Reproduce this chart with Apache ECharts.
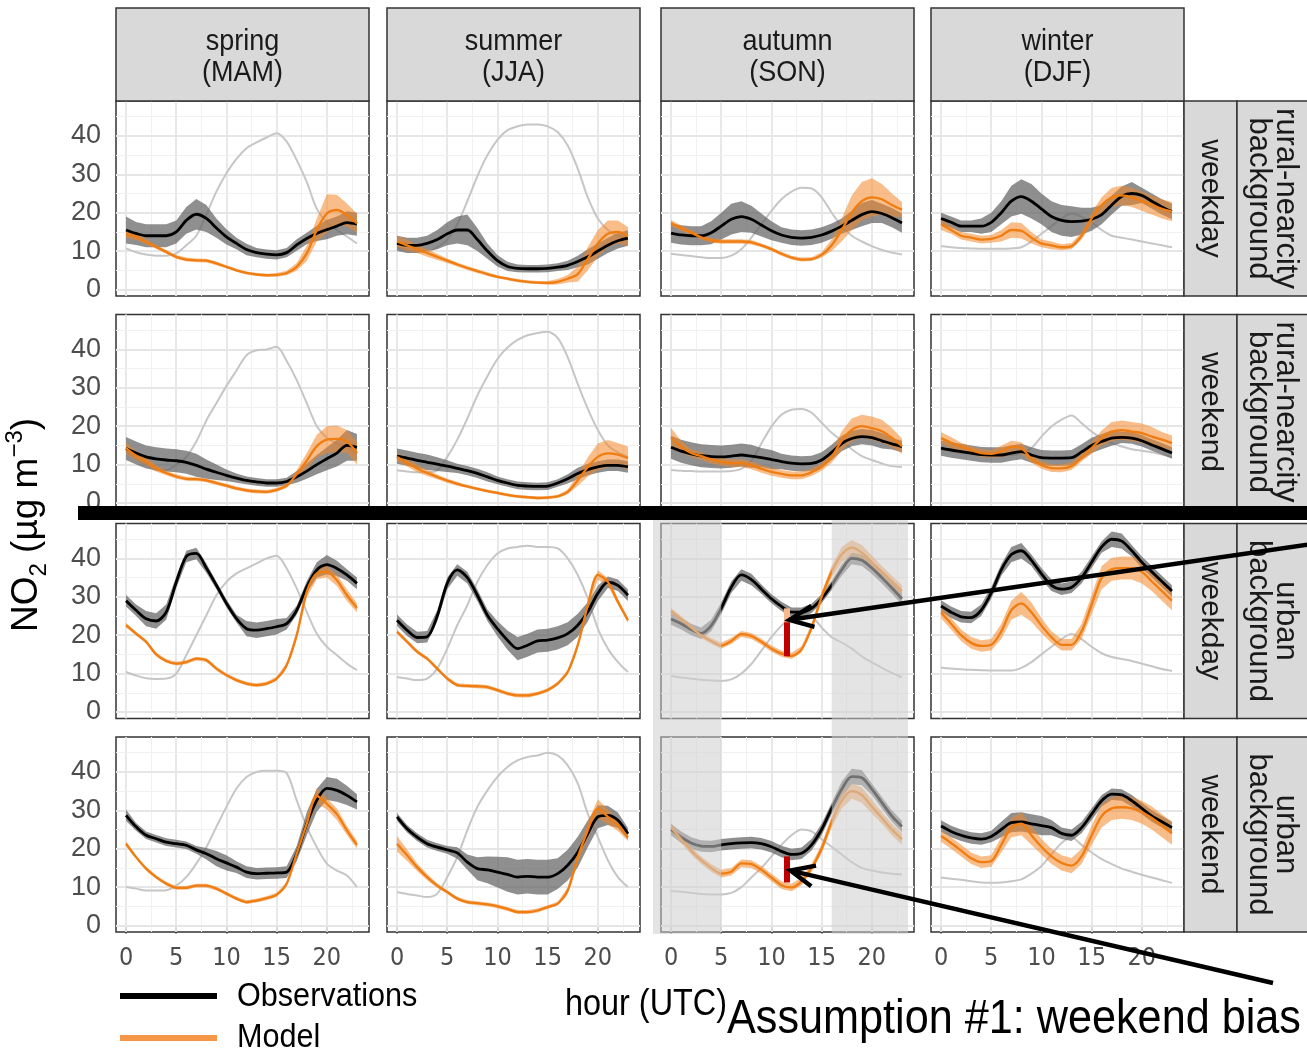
<!DOCTYPE html>
<html>
<head>
<meta charset="utf-8">
<script src="https://cdn.jsdelivr.net/npm/echarts@6/dist/echarts.min.js"></script>
<style>
  html, body { margin: 0; padding: 0; background: #fff; }
  #chart { width: 1307px; height: 1050px; }
</style>
</head>
<body>
<div id="chart"></div>
<script>
// ---- categories / labels ----
const HOURS = [0,1,2,3,4,5,6,7,8,9,10,11,12,13,14,15,16,17,18,19,20,21,22,23];
const SEASONS = ['spring\n(MAM)', 'summer\n(JJA)', 'autumn\n(SON)', 'winter\n(DJF)'];
const DAYTYPES = ['weekday', 'weekend', 'weekday', 'weekend'];
const SITES = ['rural-nearcity\nbackground', 'rural-nearcity\nbackground', 'urban\nbackground', 'urban\nbackground'];
const X_TICKS = [0, 5, 10, 15, 20];
const Y_TICKS = [0, 10, 20, 30, 40];

// ---- rural-nearcity background, weekday: [spring, summer, autumn, winter] ----
const obs_rwd = [
  [15.5,14.6,14,14,14,15,18,19.6,18.5,16,13.7,12,10.4,9.6,9.2,9,9.6,11.6,13.3,14.6,15.6,16.5,17.4,17],
  [12,11.5,11.5,12,13,14.5,15.5,15.5,13,10,7.5,6,5.5,5.4,5.4,5.5,5.8,6.3,7.3,8.5,10,11.5,12.7,13.4],
  [14.7,14.2,14,14,14.8,16.5,18.3,19,18.3,16.8,15.3,14.2,13.6,13.4,13.6,14.2,15.2,16.5,18,19.5,20.3,19.8,18.7,17.3],
  [18.5,17.5,16.5,16.5,16.5,17.5,20,23,24.2,23,21,19,18,17.7,17.8,18.3,19.5,22,24.3,25,24.5,23,21.5,20.3]
];
const obsSd_rwd = [
  [3.5,3,3,3,3,3,3.5,4,3.5,2.5,2,1.5,1.5,1.2,1.2,1.2,1.2,1.5,1.5,2,2.5,2.5,3,3],
  [2,2,2,2,2.5,3,3.5,4,3,2,1.5,1.2,1,1,1,1,1,1.2,1.5,2,2,2,2,2],
  [2.5,2.5,2.5,2.5,3,3.5,4,4,3.5,3,2.5,2,2,2,2,2,2,2,2.5,3,3,2.5,2.5,2.5],
  [1.5,1.5,1.5,1.5,2,2.5,3,4,4.5,4.5,4,4,4,4,3.5,3,2.5,2.5,2.5,3,2,2,2,2]
];
const mod_rwd = [
  [14.5,13.7,12.4,11.1,9.8,8.5,7.8,7.6,7.5,6.8,5.9,5,4.3,3.9,3.7,3.8,4.3,5.9,9.4,15.5,19.8,20.7,19.4,17.2],
  [12.5,11.5,10.5,9.5,8.5,7.5,6.5,5.6,4.8,4,3.3,2.8,2.3,2,1.8,1.7,2,2.8,4,8,12,14.5,15,13.8],
  [17.3,16,14.8,13.6,12.8,12.5,12.5,12.5,12.3,11.5,10.5,9.3,8.3,7.8,7.9,9,11.5,15.5,20,23,24,23.5,22,20.8],
  [17,15.5,14,13.5,13,13.2,14,15.5,15.3,13.5,12,11.5,11,11.3,14,18.5,22,24,24.5,24,23,22,21,20.3]
];
const modSd_rwd = [
  [1,0.8,0.6,0.5,0.5,0.5,0.5,0.5,0.5,0.5,0.4,0.4,0.4,0.4,0.4,0.5,0.6,1,2,3,5,4,3,2.5],
  [1.5,1.5,1,1,0.8,0.6,0.5,0.5,0.5,0.5,0.4,0.4,0.4,0.4,0.4,0.5,0.7,1,2,3,3.5,3.5,3,2.5],
  [0.8,0.7,0.7,0.6,0.6,0.6,0.6,0.6,0.6,0.5,0.5,0.5,0.5,0.5,0.5,0.7,1.5,3,4.5,5,5,4,3,2],
  [1.5,1,1,1,1,1,1.5,2,2,1.5,1,1,0.8,0.8,1,1.5,2,2.5,2.5,2.5,2.5,2.5,2.5,2.5]
];
const bg_rwd = [
  [10.7,9.7,9.1,8.8,8.8,9.4,11.5,14,19.5,25.5,30.3,34,36.8,38.3,39.6,40.7,38.5,33.7,28,21,17.5,15.5,13.8,12],
  [11,10.3,9.8,9.8,11,13,17,23,29.5,35,39,41.5,42.5,43,43,42.5,41,37.5,31.5,24,18.5,15.5,14,13.5],
  [9.3,9,8.7,8.4,8.2,8.2,8.8,10.5,13.5,17,20.5,23.5,25.5,26.5,26.3,24,20,16.5,14,12.5,11.3,10.3,9.6,9.1],
  [11.3,11,10.8,10.7,10.6,10.6,10.6,10.7,11,12.5,14.5,16.5,18.5,19.8,19,17.5,15.5,14,13.5,13,12.5,12,11.5,11]
];

// ---- rural-nearcity background, weekend ----
const obs_rwe = [
  [14.2,13,12,11.5,11.2,11,10.6,9.8,8.8,8,7.2,6.5,5.9,5.5,5.2,5.2,5.6,6.8,8.3,10,11.5,13,15,14.5],
  [12.2,11.7,11.1,10.6,10.1,9.6,9,8.4,7.7,6.8,5.9,5.2,4.6,4.4,4.3,4.4,5.2,6.3,7.7,8.7,9.4,9.8,9.8,9.4],
  [14.5,13.5,12.8,12.3,12.1,12,12.2,12.5,12.2,11.8,11.3,10.8,10.4,10.2,10.3,11.2,13.2,15.5,16.8,17.3,17,16.2,15.4,14.7],
  [14.3,13.8,13.4,13,12.6,12.5,12.5,13,13.4,12.5,11.8,11.7,11.7,11.8,13.3,15,16,16.9,17.1,16.9,16.2,15.1,14.1,13]
];
const obsSd_rwe = [
  [3,3,3,3,3,3,3,3,2.5,2,1.5,1.2,1,1,1,1,1,1.5,2,2.5,3,3.5,4,3.5],
  [2,2,2,2,1.8,1.5,1.2,1.2,1.2,1.2,1,1,1,1,1,1,1,1.2,1.5,1.5,1.5,1.5,1.5,1.5],
  [3,3,3,3,3,3,3,3,3,2.5,2.5,2,2,2,2,2,2,2,2,2,2,2,1.5,1.5],
  [2,2,2,2,2,2,2,2,2,2,2,2,2,2,2,2,2,2,1.5,1.5,1.5,1.5,1.5,1.5]
];
const mod_rwe = [
  [14.3,12.3,10.8,9,7.8,6.9,6.3,6.2,5.9,5.2,4.5,3.8,3.3,3,2.9,3.4,4.5,7.5,11,14.8,16.5,16.7,16,13],
  [12,10.5,9,7.8,6.8,5.8,5,4.3,3.7,3.1,2.6,2.1,1.7,1.5,1.3,1.4,1.7,2.9,5.9,9.4,12,12.9,12.6,11.7],
  [17,14.7,13,12.2,11.3,10.7,10.4,10.4,9.8,8.9,8.1,7.6,7.2,7.2,8,9.4,12,16.2,19,20,19.5,18.7,17,14.8],
  [16.9,15.7,14.7,13.8,13,12.8,13.4,14.7,14.3,11.5,9.9,9.1,9,9.6,11.8,14.3,16.9,18.6,19,18.6,18.2,17.3,16.5,15.6]
];
const modSd_rwe = [
  [1.5,1.2,1,0.8,0.6,0.6,0.5,0.5,0.5,0.5,0.5,0.5,0.5,0.5,0.5,0.5,0.6,1,2,3,3.5,3.5,3,3],
  [1.2,1,1,0.8,0.6,0.5,0.5,0.4,0.4,0.4,0.4,0.4,0.4,0.4,0.4,0.4,0.4,0.6,1.5,2.5,3.5,3.5,3,3],
  [2.5,1.5,1,1,1,1,1,1,1,1,1,1,1,1,1,1,1.5,2.5,3,3,3,3,2.5,2],
  [1.5,1.5,1,1,1,1,1.5,1.5,1.5,1,1,1,1,1,1,1.5,2,2.5,2.5,2.5,2.5,2.5,2,2]
];
const bg_rwe = [
  [13.5,11.5,10,8.5,8.5,10,12,16,21.5,26,30.5,34.5,38.5,39.8,40,40.7,37,32,26,20,17,15.5,14.5,13],
  [8.5,8.2,8,8,8.5,12,16.5,22,28,33,37.5,40.5,42.5,43.7,44.3,44.6,43,38,31,24.5,19,15,13.2,12],
  [8.6,8.4,8.3,8.2,8.2,8.2,8.3,8.9,11,15.5,19.9,23,24.3,24.5,23.5,20.9,18.3,16.2,14,12.2,11.2,10.3,9.6,9.4],
  [14,13.5,13,12.7,12.5,12.5,12.5,12.5,13,14.3,17.3,19.9,21.7,22.8,20.8,18.6,16.9,15.6,14.7,14,13.6,13.2,12.6,12]
];

// ---- urban background, weekday ----
const obs_uwd = [
  [29,26.5,24.3,23.7,26,33.8,40.5,41.3,37.5,33,28.3,24.3,21.7,21.3,21.7,22.2,23,26.5,32.6,37,38.4,37.4,35.7,33.5],
  [23.9,21.3,19.4,19.6,25,33.5,37,35,30.4,25.2,21.7,18.7,16.5,17.4,18.5,18.7,19.3,20.4,22.6,26.1,30.9,33.8,33,30.4],
  [24.2,23,21.5,20.5,22.5,27,32.5,35.7,34.5,32,29.5,27.5,26,26,27,29.5,33,37,40,39.5,37.5,35,32.3,29.5],
  [27.6,26,24.8,24.6,26.5,31,37,41,42,39.5,36,33,32,32.5,35,39,43,45,44.5,42,39,36.5,34,31.5]
];
const obsSd_uwd = [
  [1.5,1.5,2,2,2,1.5,1.5,1.5,1.2,1,1,1,2,2,2,2,1.5,1.2,1.5,2,2.5,2,1.5,1.5],
  [1.5,1.5,1.5,1.5,1.5,1.5,1.5,1.5,1.5,1.5,2,2.5,3,3,3,3,3,3,3,2.5,2,1.5,1.5,1.5],
  [1.5,1.5,1.5,1.5,1.5,1.5,1.5,1.5,1.5,1.2,1.2,1.2,1.2,1.2,1.2,1.2,1.2,1.5,1.5,1.5,1.5,1.5,1.5,1.5],
  [1.5,1.5,1.5,1.5,1.5,1.5,1.5,2,2,1.5,1.5,1.5,1.5,1.5,1.5,1.5,1.5,2,2,1.5,1.5,1.5,1.5,1.5]
];
const mod_uwd = [
  [22.6,20.4,18.3,15,13.3,12.6,13,13.9,13.5,11.3,9.6,8.3,7.4,7,7.4,8.7,12.2,20,31.3,36.1,36.5,34.3,30.4,27.1],
  [20.9,18.3,15.7,13.9,11.3,8.7,7,6.8,6.7,6.5,5.7,4.8,4.3,4.3,4.8,5.7,7.4,10.4,17.4,27.8,35.7,33.9,28.7,23.9],
  [26.3,24.2,22,20,18.5,17.3,18.5,20.3,19.8,18.3,16.5,15.2,14.6,16.3,22,30,36.5,41,42.8,41.5,39,36.5,34,31.5],
  [25.9,23,20,18,17.2,17.5,21,26.5,28.3,26,22.5,19.5,17.5,17.5,21,28,35,37.2,37.5,37.5,36.5,34,31.5,29]
];
const modSd_uwd = [
  [0.6,0.5,0.5,0.5,0.5,0.5,0.5,0.5,0.5,0.5,0.5,0.5,0.5,0.5,0.5,0.5,0.7,1,1.5,1.5,1.5,1.5,1.5,1.2],
  [0.6,0.5,0.5,0.5,0.5,0.5,0.5,0.5,0.5,0.5,0.5,0.5,0.5,0.5,0.5,0.5,0.5,0.6,0.8,1,1.2,1,0.8,0.7],
  [0.8,0.8,0.8,0.8,0.8,0.8,0.8,0.8,0.8,0.8,0.8,0.8,0.8,0.8,1,1.2,1.5,2,2,2,1.8,1.5,1.5,1.5],
  [1.5,1.5,1.5,1.5,1.5,1.5,2,2.5,3,2.5,2,1.5,1.5,1.5,2,2.5,3,3,3,3,3,2.5,2.5,2.5]
];
const bg_uwd = [
  [10.4,9.5,8.8,8.6,8.7,10,14.8,20,25.2,30.4,33.9,36.1,37.4,38.7,40,40.7,37.4,32.2,26.1,20.4,17,14.8,12.6,10.9],
  [9.1,8.7,8.3,8.7,11.3,16.5,22.6,27.8,33.9,38.3,41.3,42.6,43,43.3,43,43,42.6,40,35.7,29.6,21.7,16.5,13,10.4],
  [9.4,9,8.7,8.4,8.2,8.1,8.5,10,12.5,16,19.5,22.5,24.5,25.9,25,22,19.5,18.1,16.5,14.5,12.9,11.5,10.2,9],
  [11.6,11.3,11.1,11,10.9,10.8,10.8,10.8,11.5,13,15,17,19,20.3,19,17,15.3,14.3,13.8,13.3,12.6,11.9,11.2,10.7]
];

// ---- urban background, weekend ----
const obs_uwe = [
  [28.7,25.7,23.5,22.6,21.7,21.3,20.9,19.7,18.7,17.4,16.3,15.2,13.9,13.5,13.6,13.7,13.9,18.7,26.5,32.6,35.7,35.2,33.9,32.2],
  [28.3,25.2,23,21.3,20.4,19.7,18.9,16.5,14.8,14.5,13.9,13.3,12.6,12.8,12.6,12.6,13.5,15.7,19.1,23.9,28.3,28.7,27.4,23.9],
  [25,23,21.5,20.7,20.6,21,21.3,21.5,21.6,21.3,20.5,19.3,18.5,18.8,21,25,30.5,35.5,38.8,38.5,35.5,32,28.5,25.8],
  [25.9,24.5,23.5,22.8,22.5,23.2,25,26.8,27,26.5,26,25.5,24,23.5,25.5,29,32.5,34.2,34,32.5,30.5,28.5,27,25.5]
];
const obsSd_uwe = [
  [1.5,1,1,1,1,1,1,1,1.5,2,2,1.5,1.5,1.5,1.5,1.5,1.5,2,3,3,3,3,2.5,2],
  [1,1,1,1,1,1,1.5,2,3,3.5,4,4.5,4.5,4.5,4.5,4.5,4,4,4,3.5,3,2.5,2,1.5],
  [1.5,1.5,1.5,1.5,1.5,1.5,1.5,1.5,1.5,1.5,1.5,1.5,1.5,1.5,1.5,1.5,1.5,2,2,2,1.5,1.5,1.5,1.5],
  [1.5,1.5,1.5,1.5,1.5,1.5,2,2.5,2.5,2.5,2.5,2,1.5,1.5,1.5,1.5,1.5,1.5,1.5,1.5,1.5,1.5,1.5,1.5]
];
const mod_uwe = [
  [21.3,17.8,14.8,12.6,10.9,9.8,9.8,10.4,10.4,9.6,8.3,7,6.1,6.5,7.1,8,10.9,18.7,26.5,33.8,31.7,29,24.8,21],
  [21.3,18.3,15.2,12.6,10.4,8.7,7,6.1,5.8,5.5,5,4.3,3.5,3.5,3.9,4.8,5.7,9.1,17.8,24.8,30.4,28.3,26.1,23],
  [25.5,22.5,19.5,17,15,13.5,14,16.2,16,14.5,12.5,10.5,9.9,11.5,15,20,27,32.5,35,34,31,28,25,22.5],
  [23.3,21.5,19.5,17.5,16.5,16.8,21,25.5,26.5,23.5,20.5,18,16.3,15.6,18,23.5,28.5,30.5,30.8,30.5,29.5,28,26,24]
];
const modSd_uwe = [
  [0.6,0.5,0.5,0.5,0.5,0.5,0.5,0.5,0.5,0.5,0.5,0.5,0.5,0.5,0.5,0.5,0.5,1,1.5,2,1.5,1.5,1.2,1],
  [2,1.5,1,0.8,0.6,0.5,0.5,0.5,0.5,0.5,0.5,0.5,0.5,0.5,0.5,0.5,0.5,0.8,1.5,2,2.5,2,1.5,1],
  [1,1,1,1,1,1,1,1,1,1,1,1,1,1,1,1.2,1.5,2,2,2,1.8,1.5,1.5,1.5],
  [1.5,1.5,1.5,1.5,1.5,1.5,2,2.5,3,2.5,2,2,2,2,2,2.5,3,3,3,3,3,3,3,3]
];
const bg_uwe = [
  [10,9.6,9.1,9.1,9.2,10.4,12.6,16.1,20.4,25.7,30.9,35.7,38.7,40,40.3,40.3,39.7,32.6,25.7,20.4,16.1,14.3,13,10],
  [8.7,8.2,7.8,7.4,8.3,12.6,17.8,24.8,30.9,35.2,38.7,41.3,43,43.9,44.3,45,44.3,41.7,37,29.1,23,17,12.6,10],
  [9,8.8,8.5,8.2,8.1,8.1,8.5,10,12.5,15,18,21,23.5,25,24.5,22.5,20.5,18.5,16.5,15,14.3,13.8,13.5,13.3],
  [12.5,12.2,11.9,11.5,11.2,11.1,11.2,11.5,12,13.5,15.5,18.5,21.5,22.9,21,19,17.3,16,14.8,14,13.2,12.5,11.8,11.1]
];

// ---- annotation: weekend bias bars (autumn, hour ~11.5) ----
const BIAS_HOUR = 11.5;
const biasWeekdayDark = [14.5, 23.4];
const biasWeekdayLight = [23.4, 27];
const biasWeekend = [11.2, 18];

const ROWS = [
  {obs: obs_rwd, obsSd: obsSd_rwd, mod: mod_rwd, modSd: modSd_rwd, bg: bg_rwd},
  {obs: obs_rwe, obsSd: obsSd_rwe, mod: mod_rwe, modSd: modSd_rwe, bg: bg_rwe},
  {obs: obs_uwd, obsSd: obsSd_uwd, mod: mod_uwd, modSd: modSd_uwd, bg: bg_uwd},
  {obs: obs_uwe, obsSd: obsSd_uwe, mod: mod_uwe, modSd: modSd_uwe, bg: bg_uwe}
];

// layout
const COL_LEFT = [116, 387, 661, 931], COL_W = 253;
const ROW_TOP = [101, 314.5, 523.5, 737], ROW_H = 195;
const X_MIN = -1, X_MAX = 24.2, Y_MIN = -1.7, Y_MAX = 49.1;
const COND = "'DejaVu Sans Condensed', 'Liberation Sans', sans-serif";
const SANS = "'Liberation Sans', Arial, sans-serif";

const majorLine = {color: '#e6e6e6', width: 1.8, type: 'solid'};
const minorLine = {color: '#f1f1f1', width: 1, type: 'solid'};
const gridLineData = [].concat(
  [0, 5, 10, 15, 20].map(v => ({xAxis: v, lineStyle: majorLine})),
  [2.5, 7.5, 12.5, 17.5, 22.5].map(v => ({xAxis: v, lineStyle: minorLine})),
  [0, 10, 20, 30, 40].map(v => ({yAxis: v, lineStyle: majorLine})),
  [5, 15, 25, 35, 45].map(v => ({yAxis: v, lineStyle: minorLine}))
);

function pairs(arr) { return arr.map((v, i) => [HOURS[i], v]); }

// ribbon between lo and hi, drawn as one polygon through the axis scales
function ribbon(gi, mid, sd, color, z) {
  const lo = mid.map((v, i) => v - sd[i]);
  const hi = mid.map((v, i) => v + sd[i]);
  return {
    type: 'custom', xAxisIndex: gi, yAxisIndex: gi, silent: true, z: z,
    data: HOURS.map((h, i) => [h, lo[i], hi[i]]),
    encode: {x: 0, y: [1, 2]},
    renderItem: function (params, api) {
      if (params.dataIndex !== 0) return null;
      const top = HOURS.map((h, i) => api.coord([h, hi[i]]));
      const bot = HOURS.map((h, i) => api.coord([h, lo[i]])).reverse();
      return {type: 'polygon', shape: {points: top.concat(bot)}, style: {fill: color}};
    }
  };
}

const grids = [], xAxes = [], yAxes = [], series = [];
ROWS.forEach((row, r) => {
  for (let c = 0; c < 4; c++) {
    const gi = grids.length;
    grids.push({left: COL_LEFT[c], top: ROW_TOP[r], width: COL_W, height: ROW_H,
      show: true, backgroundColor: '#fff', borderColor: '#333', borderWidth: 1.5});
    xAxes.push({gridIndex: gi, type: 'value', min: X_MIN, max: X_MAX,
      axisLine: {show: false}, splitLine: {show: false},
      axisTick: {show: r === 3, customValues: X_TICKS, length: 8, lineStyle: {color: '#333', width: 1.5}},
      axisLabel: {show: r === 3, customValues: X_TICKS, margin: 14, fontSize: 25, fontFamily: COND, color: '#4d4d4d'}});
    yAxes.push({gridIndex: gi, type: 'value', min: Y_MIN, max: Y_MAX,
      axisLine: {show: false}, splitLine: {show: false},
      axisTick: {show: c === 0, customValues: Y_TICKS, length: 8, lineStyle: {color: '#333', width: 1.5}},
      axisLabel: {show: c === 0, customValues: Y_TICKS, margin: 15, fontSize: 27, fontFamily: SANS, color: '#4d4d4d'}});

    const obs = row.obs[c], mod = row.mod[c];
    const base = {type: 'line', xAxisIndex: gi, yAxisIndex: gi, symbol: 'none', smooth: 0.3, silent: true};

    series.push(Object.assign({}, base, {name: 'bg', data: pairs(row.bg[c]), z: 2,
      lineStyle: {color: '#c6c6c6', width: 2},
      markLine: {silent: true, symbol: ['none', 'none'], label: {show: false}, z: 1, animation: false, data: gridLineData}}));
    series.push(ribbon(gi, obs, row.obsSd[c], 'rgba(100,100,100,0.72)', 3));
    series.push(ribbon(gi, mod, row.modSd[c], 'rgba(242,135,40,0.55)', 3));
    series.push(Object.assign({}, base, {name: 'Observations', data: pairs(obs), z: 4,
      lineStyle: {color: '#000', width: 2.8}}));

    const modSeries = Object.assign({}, base, {name: 'Model', data: pairs(mod), z: 5,
      lineStyle: {color: '#ef7d11', width: 2.3}});
    if (c === 2 && r >= 2) {
      const bar = (a, col) => [{coord: [BIAS_HOUR, a[0]]}, {coord: [BIAS_HOUR, a[1]], lineStyle: {color: col, width: 6, type: 'solid', cap: 'butt'}}];
      modSeries.markLine = {silent: true, symbol: ['none', 'none'], label: {show: false}, animation: false, z: 6,
        data: r === 2 ? [bar(biasWeekdayDark, '#c00000'), bar(biasWeekdayLight, '#f7b88e')] : [bar(biasWeekend, '#c00000')]};
    }
    series.push(modSeries);
  }
});

const chart = echarts.init(document.getElementById('chart'), null, {renderer: 'canvas'});
chart.setOption({
  animation: false,
  backgroundColor: '#fff',
  grid: grids, xAxis: xAxes, yAxis: yAxes, series: series
});

// ---- strips, overlays and annotations ----
const g = [];
const stripStyle = {fill: '#d9d9d9', stroke: '#333', lineWidth: 1.5};
SEASONS.forEach((s, c) => {
  g.push({type: 'rect', z: 10, shape: {x: COL_LEFT[c], y: 8, width: COL_W, height: 93}, style: stripStyle});
  g.push({type: 'text', z: 11, x: COL_LEFT[c] + COL_W / 2, y: 57, scaleX: 0.9,
    style: {text: s, textAlign: 'center', textVerticalAlign: 'middle', fontFamily: SANS, fontSize: 30, lineHeight: 31, fill: '#1a1a1a'}});
});
DAYTYPES.forEach((d, r) => {
  const x0 = COL_LEFT[3] + COL_W;
  g.push({type: 'rect', z: 10, shape: {x: x0, y: ROW_TOP[r], width: 53, height: ROW_H}, style: stripStyle});
  g.push({type: 'rect', z: 10, shape: {x: x0 + 53, y: ROW_TOP[r], width: 80, height: ROW_H}, style: stripStyle});
  g.push({type: 'text', z: 11, x: x0 + 26.5, y: ROW_TOP[r] + ROW_H / 2, rotation: -Math.PI / 2,
    style: {text: d, textAlign: 'center', textVerticalAlign: 'middle', fontFamily: SANS, fontSize: 30, fill: '#1a1a1a'}});
  g.push({type: 'text', z: 11, x: x0 + 88, y: ROW_TOP[r] + ROW_H / 2, rotation: -Math.PI / 2,
    style: {text: SITES[r], textAlign: 'center', textVerticalAlign: 'middle', fontFamily: SANS, fontSize: 31, lineHeight: 27, fill: '#1a1a1a'}});
});

// y-axis title
g.push({type: 'text', z: 11, x: 27, y: 525, rotation: Math.PI / 2,
  style: {text: '{a|NO}{b|2}{a| (µg m}{c|−3}{a|)}', textAlign: 'center', textVerticalAlign: 'middle', fill: '#000',
    rich: {a: {fontFamily: SANS, fontSize: 37, lineHeight: 48, fill: '#000'},
           b: {fontFamily: SANS, fontSize: 24, lineHeight: 48, verticalAlign: 'bottom', fill: '#000'},
           c: {fontFamily: SANS, fontSize: 24, lineHeight: 48, verticalAlign: 'top', fill: '#000'}}}});

// shaded hours in autumn urban panels (hours < 5 and > 16)
const autumnGrid = 2 * 4 + 2;
const pxH5 = chart.convertToPixel({gridIndex: autumnGrid}, [5, 0])[0];
const pxH16 = chart.convertToPixel({gridIndex: autumnGrid}, [16, 0])[0];
const shadeStyle = {fill: 'rgba(205,205,205,0.55)'};
g.push({type: 'rect', z: 50, shape: {x: 653, y: 520, width: pxH5 - 653, height: 414}, style: shadeStyle});
g.push({type: 'rect', z: 50, shape: {x: pxH16, y: 520, width: 908 - pxH16, height: 414}, style: shadeStyle});

// thick separator
g.push({type: 'rect', z: 100, shape: {x: 78, y: 506, width: 1240, height: 14}, style: {fill: '#000'}});

// arrows
function arrow(x0, y0, tip) {
  const [tx, ty] = tip;
  const ang = Math.atan2(y0 - ty, x0 - tx), L = 26, a = 0.42;
  const p1 = [tx + L * Math.cos(ang + a), ty + L * Math.sin(ang + a)];
  const p2 = [tx + L * Math.cos(ang - a), ty + L * Math.sin(ang - a)];
  const st = {stroke: '#000', lineWidth: 4.5, fill: null, lineCap: 'butt', lineJoin: 'miter'};
  g.push({type: 'line', z: 120, shape: {x1: x0, y1: y0, x2: tx, y2: ty}, style: st});
  g.push({type: 'polyline', z: 120, shape: {points: [p1, [tx, ty], p2]}, style: st});
}
const tip1 = chart.convertToPixel({gridIndex: autumnGrid}, [BIAS_HOUR, 24]);
const tip2 = chart.convertToPixel({gridIndex: autumnGrid + 4}, [BIAS_HOUR, 14.3]);
arrow(1312, 544, [tip1[0] + 3, tip1[1]]);
arrow(1273, 983, [tip2[0] + 4, tip2[1]]);

// legend
g.push({type: 'rect', z: 11, shape: {x: 120, y: 993, width: 97, height: 6}, style: {fill: '#000'}});
g.push({type: 'rect', z: 11, shape: {x: 120, y: 1035, width: 97, height: 6}, style: {fill: '#f79646'}});
g.push({type: 'text', z: 11, x: 237, y: 997, scaleX: 0.9,
  style: {text: 'Observations', textAlign: 'left', textVerticalAlign: 'middle', fontFamily: SANS, fontSize: 34, fill: '#000'}});
g.push({type: 'text', z: 11, x: 237, y: 1038, scaleX: 0.9,
  style: {text: 'Model', textAlign: 'left', textVerticalAlign: 'middle', fontFamily: SANS, fontSize: 34, fill: '#000'}});

// bottom texts
g.push({type: 'text', z: 11, x: 646, y: 1005, scaleX: 0.9,
  style: {text: 'hour (UTC)', textAlign: 'center', textVerticalAlign: 'middle', fontFamily: SANS, fontSize: 36, fill: '#000'}});
g.push({type: 'text', z: 121, x: 727, y: 1020, scaleX: 0.9,
  style: {text: 'Assumption #1: weekend bias', textAlign: 'left', textVerticalAlign: 'middle', fontFamily: SANS, fontSize: 48, fill: '#000'}});

chart.setOption({graphic: g});
</script>
</body>
</html>
